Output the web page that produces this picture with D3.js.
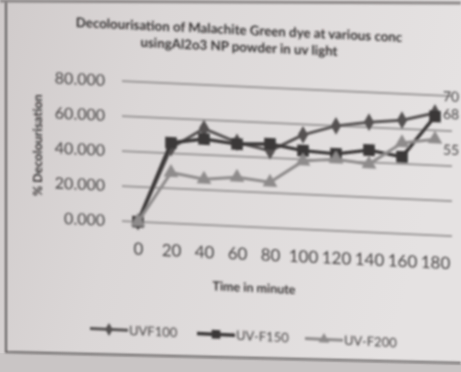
<!DOCTYPE html>
<html>
<head>
<meta charset="utf-8">
<script src="https://cdn.jsdelivr.net/npm/d3@7"></script>
<style>
  html, body { margin: 0; padding: 0; background: #d9d6d6; }
  svg { display: block; }
  text { font-family: Lato, "Open Sans", sans-serif; }
</style>
</head>
<body>
<div id="chart"></div>
<script>
// Sampling times (minutes)
const times = [0, 20, 40, 60, 80, 100, 120, 140, 160, 180];

// % decolourisation for each concentration
const uvf100 = [0, 43, 55, 48, 44, 54, 60, 63, 65, 70];
const uvf150 = [0, 46, 49, 47, 48, 45, 44, 47, 44, 68];
const uvf200 = [0, 29, 26, 28, 26, 39, 41, 39, 52, 55];

const seriesNames = ["UVF100", "UV-F150", "UV-F200"];
const yTicks = [0, 20, 40, 60, 80];

const titleLines = [
  "Decolourisation of Malachite Green dye at various conc",
  "usingAl2o3 NP powder in uv light"
];
const xTitle = "Time in minute";
const yTitle = "% Decolourisation";

const W = 461, H = 372;

const svg = d3.select("#chart").append("svg")
  .attr("width", W).attr("height", H);

const defs = svg.append("defs");
const paper = defs.append("linearGradient").attr("id", "paper")
  .attr("x1", "0").attr("x2", "1").attr("y1", "0").attr("y2", "0.2");
paper.append("stop").attr("offset", "0").attr("stop-color", "#d0cbcb");
paper.append("stop").attr("offset", "0.35").attr("stop-color", "#dbd7d7");
paper.append("stop").attr("offset", "1").attr("stop-color", "#e5e2e2");

const soft = defs.append("filter").attr("id", "soft")
  .attr("x", "-5%").attr("y", "-5%").attr("width", "110%").attr("height", "110%");
soft.append("feGaussianBlur").attr("stdDeviation", 0.9);

// sheet of paper
svg.append("rect").attr("width", W).attr("height", H).attr("fill", "url(#paper)");
// area below the chart frame
svg.append("path")
  .attr("d", `M0,353 L${W},364 L${W},${H} L0,${H} Z`)
  .attr("fill", "#c9c5c5");

const page = svg.append("g").attr("filter", "url(#soft)");

// frame edges
page.append("path")
  .attr("d", `M6,0 L6,352 L${W},363`)
  .attr("fill", "none").attr("stroke", "#5f5c5c").attr("stroke-width", 2);
page.append("path")
  .attr("d", `M0,1 L${W},3`)
  .attr("fill", "none").attr("stroke", "#8a8686").attr("stroke-width", 3);

// the printed sheet is slightly skewed
const k = 0.046, cx = 230;
const g = page.append("g")
  .attr("transform", `matrix(1,${k},0,1,0,${-k * cx})`);

const x = d3.scalePoint().domain(times).range([121.5, 451.5]).padding(0.5);
const y = d3.scaleLinear().domain([0, 80]).range([226, 86]);

const ink = "#474444";

// gridlines
g.append("g").selectAll("line").data(yTicks).join("line")
  .attr("x1", 122).attr("x2", 452)
  .attr("y1", d => y(d)).attr("y2", d => y(d))
  .attr("stroke", "#939090").attr("stroke-width", 1.7);

// y axis labels
const yAxis = g.append("g").attr("transform", "translate(122,0)")
  .call(d3.axisLeft(y).tickValues(yTicks).tickFormat(d3.format(".3f")).tickSize(0).tickPadding(17));
yAxis.select(".domain").remove();
yAxis.selectAll("text")
  .attr("fill", ink).style("font-size", "16px").style("font-family", "Lato");

// x axis labels
const xAxis = g.append("g").attr("transform", `translate(0,${y(0)})`)
  .call(d3.axisBottom(x).tickSize(0).tickPadding(21));
xAxis.select(".domain").remove();
xAxis.selectAll("text")
  .attr("fill", ink).style("font-size", "17px").style("font-family", "Lato");

// titles
g.append("g").selectAll("text").data(titleLines).join("text")
  .attr("x", 239).attr("y", (d, i) => 34 + i * 17)
  .attr("text-anchor", "middle")
  .attr("fill", "#363333").style("font-size", "13.3px").style("font-weight", 700)
  .text(d => d);

g.append("text")
  .attr("x", 254).attr("y", 291)
  .attr("text-anchor", "middle")
  .attr("fill", "#383535").style("font-size", "12.5px").style("font-weight", 700)
  .text(xTitle);

g.append("text")
  .attr("transform", "translate(42,154) rotate(-90)")
  .attr("text-anchor", "middle")
  .attr("fill", "#383535").style("font-size", "12.5px").style("font-weight", 700)
  .text(yTitle);

// series
const series = [
  { name: seriesNames[0], values: uvf100, color: "#545151", width: 3, symbol: d3.symbolDiamond, size: 90, labelDy: -17 },
  { name: seriesNames[1], values: uvf150, color: "#3a3737", width: 3.4, symbol: d3.symbolSquare, size: 135, labelDy: -3 },
  { name: seriesNames[2], values: uvf200, color: "#8e8b8b", width: 3, symbol: d3.symbolTriangle, size: 95, labelDy: 10 }
];

const line = d3.line().x((d, i) => x(times[i])).y(d => y(d));

series.forEach(s => {
  const sg = g.append("g");
  sg.append("path").datum(s.values)
    .attr("d", line)
    .attr("fill", "none").attr("stroke", s.color)
    .attr("stroke-width", s.width).attr("stroke-linejoin", "round");
  sg.selectAll("path.m").data(s.values).join("path").attr("class", "m")
    .attr("transform", (d, i) => `translate(${x(times[i])},${y(d)})`)
    .attr("d", d3.symbol().type(s.symbol).size(s.size))
    .attr("fill", s.color);
  const last = s.values.length - 1;
  sg.append("text")
    .attr("x", x(times[last]) + 8)
    .attr("y", y(s.values[last]) + s.labelDy)
    .attr("dy", "0.35em")
    .attr("fill", ink).style("font-size", "14px")
    .text(d3.format("d")(s.values[last]));
});

// legend
const legendX = [90, 197, 305];
const legend = g.append("g");
series.forEach((s, i) => {
  const lg = legend.append("g").attr("transform", `translate(${legendX[i]},335)`);
  lg.append("line").attr("x1", 0).attr("x2", 38).attr("y1", 0).attr("y2", 0)
    .attr("stroke", s.color).attr("stroke-width", s.width);
  lg.append("path").attr("transform", "translate(19,0)")
    .attr("d", d3.symbol().type(s.symbol).size(s.size * 0.55))
    .attr("fill", s.color);
  lg.append("text").attr("x", 39).attr("y", 0).attr("dy", "0.35em")
    .attr("fill", ink).style("font-size", "13px")
    .text(s.name);
});
</script>
</body>
</html>
